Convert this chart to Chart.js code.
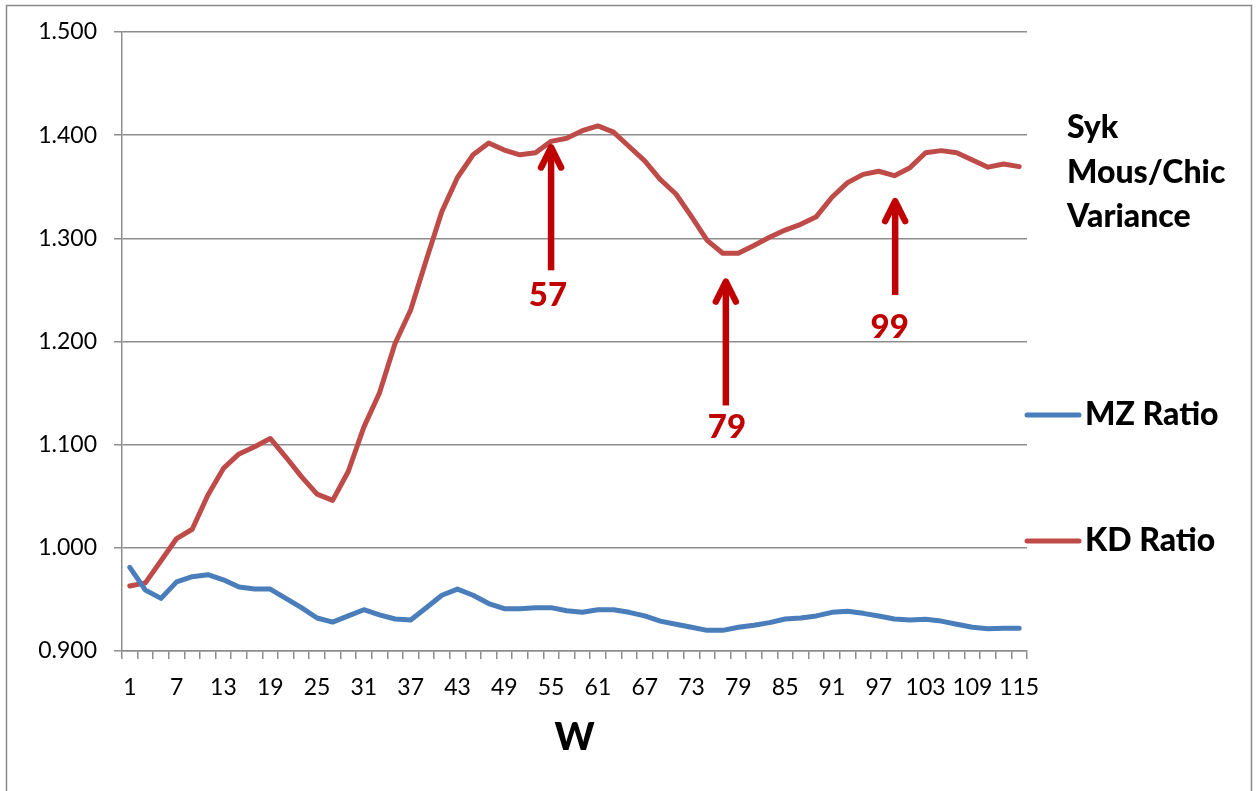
<!DOCTYPE html>
<html>
<head>
<meta charset="utf-8">
<script src="https://cdn.jsdelivr.net/npm/chart.js@4.4.1/dist/chart.umd.min.js"></script>
<style>
  html, body { margin: 0; padding: 0; background: #ffffff; }
  #wrap { width: 1256px; height: 791px; position: relative; }
</style>
</head>
<body>
<div id="wrap"><canvas id="c" width="1256" height="791"></canvas></div>
<script>
// ---- data ----
const categories = [1,3,5,7,9,11,13,15,17,19,21,23,25,27,29,31,33,35,37,39,41,43,45,47,49,51,53,55,57,59,
  61,63,65,67,69,71,73,75,77,79,81,83,85,87,89,91,93,95,97,99,101,103,105,107,109,111,113,115];

const mzRatio = [0.981,0.959,0.951,0.967,0.972,0.974,0.969,0.962,0.960,0.960,
  0.951,0.942,0.932,0.928,0.934,0.940,0.935,0.931,0.930,0.942,
  0.954,0.960,0.954,0.946,0.941,0.941,0.942,0.942,0.939,0.9375,
  0.940,0.940,0.9375,0.934,0.929,0.926,0.923,0.920,0.920,0.923,
  0.925,0.9275,0.931,0.932,0.934,0.9375,0.9385,0.9365,0.934,0.931,
  0.930,0.9307,0.929,0.926,0.923,0.9216,0.922,0.922];

const kdRatio = [0.963,0.966,0.9875,1.009,1.018,1.051,1.077,1.091,1.098,1.106,
  1.088,1.069,1.052,1.046,1.074,1.117,1.150,1.198,1.2305,1.279,
  1.326,1.359,1.381,1.3925,1.3856,1.381,1.383,1.394,1.397,1.4043,
  1.409,1.403,1.389,1.375,1.357,1.343,1.321,1.298,1.2855,1.2855,
  1.293,1.301,1.308,1.3136,1.321,1.3398,1.354,1.362,1.365,1.3607,
  1.3685,1.383,1.385,1.383,1.376,1.369,1.372,1.3695];

const seriesNames = ['MZ Ratio', 'KD Ratio'];
const yTicks = { min: 0.9, max: 1.5, step: 0.1 };
const xTitle = 'W';
const sideTitle = ['Syk', 'Mous/Chic', 'Variance'];

// annotation arrows (x in category index units, y in value units)
const arrowLabels = ['57', '79', '99'];
const arrowAt     = [27.0, 38.2, 49.05];
const arrowTip    = [1.390, 1.260, 1.338];
const arrowTail   = [1.269, 1.138, 1.245];
const labelAt     = [26.8, 38.27, 48.7];
const labelY      = [1.245, 1.117, 1.214];

// ---- styles ----
const blue = '#4a7ebb';
const red = '#be4b48';
const arrowColor = '#c00000';
const gridColor = '#8d8d8d';
const FONT = 'Lato, "Open Sans", "DejaVu Sans", sans-serif';

const overlay = {
  id: 'overlay',
  afterDraw(chart) {
    const { ctx, scales: { x, y } } = chart;
    ctx.save();
    // outer frame
    ctx.strokeStyle = '#8a8a8a';
    ctx.lineWidth = 1.5;
    ctx.strokeRect(6.5, 5.5, 1245, 800);

    // arrows
    ctx.strokeStyle = arrowColor;
    ctx.fillStyle = arrowColor;
    for (let i = 0; i < arrowLabels.length; i++) {
      const ax = x.getPixelForValue(arrowAt[i]);
      const tipY = y.getPixelForValue(arrowTip[i]);
      const tailY = y.getPixelForValue(arrowTail[i]);
      ctx.lineWidth = 6.5;
      ctx.lineCap = 'butt';
      ctx.beginPath();
      ctx.moveTo(ax, tailY);
      ctx.lineTo(ax, tipY + 3);
      ctx.stroke();
      ctx.lineCap = 'round';
      ctx.lineJoin = 'round';
      ctx.beginPath();
      ctx.moveTo(ax - 10, tipY + 22);
      ctx.lineTo(ax, tipY + 2);
      ctx.lineTo(ax + 10, tipY + 22);
      ctx.stroke();
      ctx.font = '900 33px ' + FONT;
      ctx.textAlign = 'center';
      ctx.textBaseline = 'middle';
      ctx.fillText(arrowLabels[i], x.getPixelForValue(labelAt[i]), y.getPixelForValue(labelY[i]));
    }

    // side title
    ctx.fillStyle = '#000';
    ctx.font = '900 32px ' + FONT;
    ctx.textAlign = 'left';
    ctx.textBaseline = 'middle';
    sideTitle.forEach((t, k) => ctx.fillText(t, 1067, 128 + k * 44.5));

    // legend
    const legendY = [415, 541];
    const colors = [blue, red];
    seriesNames.forEach((n, k) => {
      ctx.strokeStyle = colors[k];
      ctx.lineWidth = 5;
      ctx.lineCap = 'round';
      ctx.beginPath();
      ctx.moveTo(1027, legendY[k]);
      ctx.lineTo(1079, legendY[k]);
      ctx.stroke();
      ctx.fillStyle = '#000';
      ctx.fillText(n, 1085, legendY[k]);
    });
    ctx.restore();
  }
};

new Chart(document.getElementById('c'), {
  type: 'line',
  data: {
    labels: categories,
    datasets: [
      { label: seriesNames[0], data: mzRatio, borderColor: blue, backgroundColor: blue,
        borderWidth: 5, pointRadius: 0, tension: 0, borderJoinStyle: 'round', borderCapStyle: 'round' },
      { label: seriesNames[1], data: kdRatio, borderColor: red, backgroundColor: red,
        borderWidth: 5, pointRadius: 0, tension: 0, borderJoinStyle: 'round', borderCapStyle: 'round' }
    ]
  },
  options: {
    responsive: false,
    animation: false,
    events: [],
    layout: { padding: { left: 0, right: 229, top: 32, bottom: 0 } },
    plugins: { legend: { display: false }, tooltip: { enabled: false } },
    scales: {
      x: {
        type: 'category',
        offset: true,
        grid: { display: true, drawOnChartArea: false, drawTicks: true, tickLength: 8, color: gridColor, lineWidth: 1.5, offset: true },
        border: { display: true, color: gridColor, width: 1.5 },
        ticks: {
          autoSkip: false, maxRotation: 0, minRotation: 0, padding: 15,
          color: '#000', font: { family: FONT, size: 23 },
          callback: (v, i) => (i % 3 === 0 ? categories[i] : '')
        },
        title: { display: true, text: xTitle, color: '#000', font: { family: FONT, size: 38, weight: '900' }, padding: { top: 0, bottom: 30 } },
        afterFit: (s) => { s.height = 140; }
      },
      y: {
        min: yTicks.min, max: yTicks.max,
        grid: { color: gridColor, lineWidth: 1.5, tickLength: 8, drawTicks: true },
        border: { display: true, color: gridColor, width: 1.5 },
        ticks: {
          stepSize: yTicks.step, padding: 17,
          color: '#000', font: { family: FONT, size: 23 },
          callback: (v) => Number(v).toFixed(3)
        },
        afterFit: (s) => { s.width = 122; }
      }
    }
  },
  plugins: [overlay]
});
</script>
</body>
</html>
